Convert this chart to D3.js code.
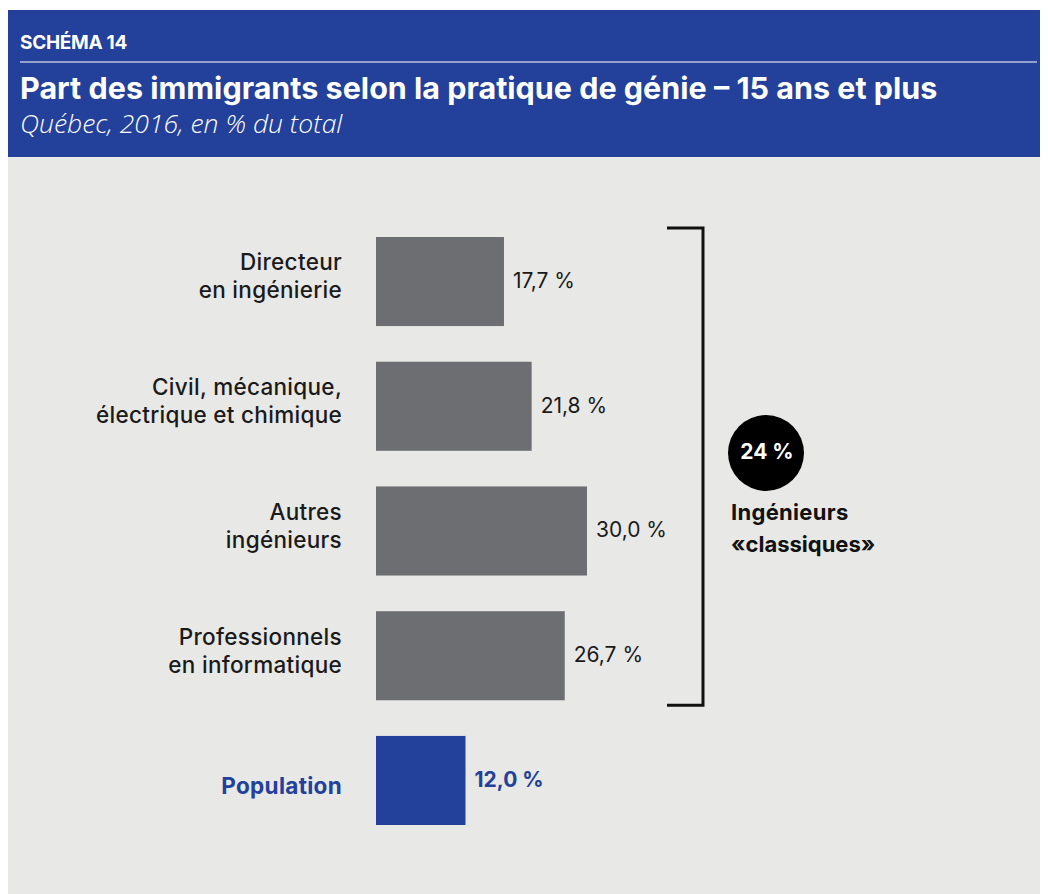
<!DOCTYPE html>
<html>
<head>
<meta charset="utf-8">
<script src="https://cdn.jsdelivr.net/npm/d3@7"></script>
<style>
  body { margin: 0; background: #fff; }
  svg { display: block; }
  text { font-family: Inter, "Open Sans", sans-serif; }
</style>
</head>
<body>
<div id="chart"></div>
<script>
const categories = [
  ["Directeur", "en ingénierie"],
  ["Civil, mécanique,", "électrique et chimique"],
  ["Autres", "ingénieurs"],
  ["Professionnels", "en informatique"],
  ["Population"]
];
const values = [17.7, 21.8, 30.0, 26.7, 12.0];
const valueLabels = ["17,7 %", "21,8 %", "30,0 %", "26,7 %", "12,0 %"];
const highlight = [false, false, false, false, true];

const width = 1048, height = 894;
const blue = "#23409a", grey = "#6d6e71", bg = "#e8e8e6";

const svg = d3.select("#chart").append("svg")
  .attr("width", width)
  .attr("height", height);

// panels
svg.append("rect").attr("x", 8).attr("y", 157).attr("width", 1032).attr("height", 737).attr("fill", bg);
svg.append("rect").attr("x", 8).attr("y", 10).attr("width", 1032).attr("height", 147).attr("fill", blue);

svg.append("text").attr("x", 20).attr("y", 49)
  .attr("fill", "#fff").attr("font-size", 19).attr("font-weight", 700)
  .attr("letter-spacing", -0.3)
  .text("SCHÉMA 14");
svg.append("line").attr("x1", 20).attr("x2", 1037).attr("y1", 62).attr("y2", 62)
  .attr("stroke", "#b9c0dc").attr("stroke-width", 1.5);
svg.append("text").attr("x", 20).attr("y", 99)
  .attr("fill", "#fff").attr("font-size", 30.5).attr("font-weight", 700)
  .text("Part des immigrants selon la pratique de génie – 15 ans et plus");
svg.append("text").attr("x", 20).attr("y", 133)
  .attr("fill", "#fff").attr("font-size", 26.5).attr("font-style", "italic").attr("font-weight", 300)
  .style("font-family", "'Open Sans', sans-serif")
  .text("Québec, 2016, en % du total");

// bars start slightly left of the value origin, as in the original layout
const x = d3.scaleLinear().domain([-1.26, 30]).range([376, 587]);
const y = d3.scaleBand().domain(d3.range(values.length)).range([237, 825]).paddingInner(0.286);

const g = svg.append("g");

g.selectAll("rect.bar").data(values).enter().append("rect")
  .attr("class", "bar")
  .attr("x", x.range()[0])
  .attr("y", (d, i) => y(i))
  .attr("width", d => x(d) - x.range()[0])
  .attr("height", y.bandwidth())
  .attr("fill", (d, i) => highlight[i] ? blue : grey);

g.selectAll("text.val").data(values).enter().append("text")
  .attr("class", "val")
  .attr("x", d => x(d) + 9)
  .attr("y", (d, i) => y(i) + y.bandwidth() / 2 - 1)
  .attr("dy", "0.35em")
  .attr("font-size", 21)
  .attr("font-weight", (d, i) => highlight[i] ? 700 : 400)
  .attr("fill", (d, i) => highlight[i] ? blue : "#1a1a1a")
  .text((d, i) => valueLabels[i]);

g.selectAll("text.cat").data(categories).enter().append("text")
  .attr("class", "cat")
  .attr("text-anchor", "end")
  .attr("font-size", 22.5)
  .attr("letter-spacing", 0.3)
  .attr("font-weight", (d, i) => highlight[i] ? 700 : 500)
  .attr("fill", (d, i) => highlight[i] ? blue : "#1a1a1a")
  .each(function(d, i) {
    const cy = y(i) + y.bandwidth() / 2 + (d.length > 1 ? -5 : 6);
    const lh = 28;
    const top = cy - (d.length - 1) * lh / 2;
    d3.select(this).selectAll("tspan").data(d).enter().append("tspan")
      .attr("x", 342)
      .attr("y", (t, j) => top + j * lh)
      .attr("dy", "0.35em")
      .text(t => t);
  });

// bracket over the four engineering groups
const bTop = y(0) - 9, bBot = y(3) + y.bandwidth() + 5, bx = 703;
svg.append("path")
  .attr("d", `M667,${bTop}H${bx}V${bBot}H667`)
  .attr("fill", "none").attr("stroke", "#111").attr("stroke-width", 3);

svg.append("circle").attr("cx", 766).attr("cy", 453).attr("r", 38).attr("fill", "#000");
svg.append("text").attr("x", 767).attr("y", 452).attr("dy", "0.35em")
  .attr("text-anchor", "middle").attr("fill", "#fff")
  .attr("font-size", 21).attr("font-weight", 700).text("24 %");
svg.append("text").attr("x", 731).attr("y", 520)
  .attr("font-size", 22).attr("font-weight", 700).attr("letter-spacing", 0.3).attr("fill", "#111").text("Ingénieurs");
svg.append("text").attr("x", 731).attr("y", 552)
  .attr("font-size", 22).attr("font-weight", 700).attr("fill", "#111").text("«classiques»");
</script>
</body>
</html>
